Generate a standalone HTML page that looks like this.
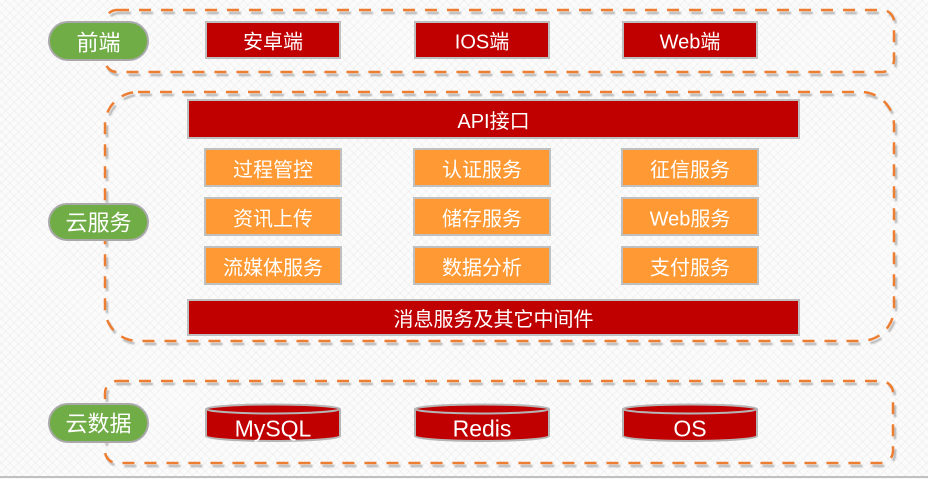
<!DOCTYPE html>
<html><head><meta charset="utf-8"><style>
html,body{margin:0;padding:0;}
body{width:928px;height:479px;overflow:hidden;background:#fbfbfb;
background-image:repeating-linear-gradient(45deg,rgba(0,0,0,0.03) 0 1px,transparent 1px 6px),repeating-linear-gradient(-45deg,rgba(0,0,0,0.03) 0 1px,transparent 1px 6px);}
svg{display:block;}
text{font-family:"Liberation Sans","Noto Sans CJK SC",sans-serif;fill:#fff;}
</style></head><body>
<svg width="928" height="479" viewBox="0 0 928 479" xmlns="http://www.w3.org/2000/svg">
<defs>
<filter id="bl" x="-5%" y="-5%" width="110%" height="110%"><feGaussianBlur stdDeviation="0.8"/></filter>
</defs>
<g fill="none" stroke="#b8b8b8" stroke-width="2.5" stroke-dasharray="12 10" filter="url(#bl)" transform="translate(2,3)">
<rect x="105" y="10" width="789" height="62" rx="12"/>
<rect x="105" y="92" width="789" height="249" rx="33"/>
<rect x="105" y="381" width="788" height="82" rx="12"/>
</g>
<g fill="none" stroke="#ed7d31" stroke-width="2.5" stroke-dasharray="12 10">
<rect x="105" y="10" width="789" height="62" rx="12"/>
<rect x="105" y="92" width="789" height="249" rx="33"/>
<rect x="105" y="381" width="788" height="82" rx="12"/>
</g>
<g fill="#70ad47" stroke="#a9a9a9" stroke-width="2">
<rect x="49" y="22" width="99" height="38" rx="19"/>
<rect x="49" y="204" width="99" height="36" rx="18"/>
<rect x="49" y="404" width="99" height="38" rx="19"/>
</g>
<g font-size="22" text-anchor="middle" dominant-baseline="central">
<text x="98.5" y="43">前端</text>
<text x="98.5" y="223">云服务</text>
<text x="98.5" y="424">云数据</text>
</g>
<g fill="#c00000" stroke="#bfbfbf" stroke-width="2">
<rect x="206" y="22" width="134" height="36"/>
<rect x="415" y="22" width="134" height="36"/>
<rect x="623" y="22" width="134" height="36"/>
<rect x="188" y="100" width="611" height="38"/>
<rect x="188" y="300" width="611" height="35"/>
</g>
<g font-size="20" text-anchor="middle" dominant-baseline="central">
<text x="273" y="42.5">安卓端</text>
<text x="482" y="42.5">IOS端</text>
<text x="690" y="42.5">Web端</text>
<text x="493.5" y="122">API接口</text>
<text x="493.5" y="320">消息服务及其它中间件</text>
</g>
<g fill="#ff9933" stroke="#bfbfbf" stroke-width="2">
<rect x="205" y="149" width="136" height="37"/>
<rect x="414" y="149" width="136" height="37"/>
<rect x="622" y="149" width="136" height="37"/>
<rect x="205" y="198" width="136" height="37"/>
<rect x="414" y="198" width="136" height="37"/>
<rect x="622" y="198" width="136" height="37"/>
<rect x="205" y="247" width="136" height="37"/>
<rect x="414" y="247" width="136" height="37"/>
<rect x="622" y="247" width="136" height="37"/>
</g>
<g font-size="20" text-anchor="middle" dominant-baseline="central">
<text x="273" y="170.5">过程管控</text>
<text x="482" y="170.5">认证服务</text>
<text x="690" y="170.5">征信服务</text>
<text x="273" y="219.5">资讯上传</text>
<text x="482" y="219.5">储存服务</text>
<text x="690" y="219.5">Web服务</text>
<text x="273" y="268.5">流媒体服务</text>
<text x="482" y="268.5">数据分析</text>
<text x="690" y="268.5">支付服务</text>
</g>
<g fill="#c00000" stroke="#b5b5b5" stroke-width="2">
<path d="M206 409 L206 436 A67 5 0 0 0 340 436 L340 409"/>
<ellipse cx="273" cy="409" rx="67" ry="4.5"/>
<path d="M415 409 L415 436 A67 5 0 0 0 549 436 L549 409"/>
<ellipse cx="482" cy="409" rx="67" ry="4.5"/>
<path d="M623 409 L623 436 A67 5 0 0 0 757 436 L757 409"/>
<ellipse cx="690" cy="409" rx="67" ry="4.5"/>
</g>
<g font-size="23" text-anchor="middle" dominant-baseline="central">
<text x="273" y="428.5">MySQL</text>
<text x="482" y="428.5">Redis</text>
<text x="690" y="428.5">OS</text>
</g>
<line x1="0" y1="477" x2="928" y2="477" stroke="#c0c0c0" stroke-width="2"/>
</svg>
</body></html>
